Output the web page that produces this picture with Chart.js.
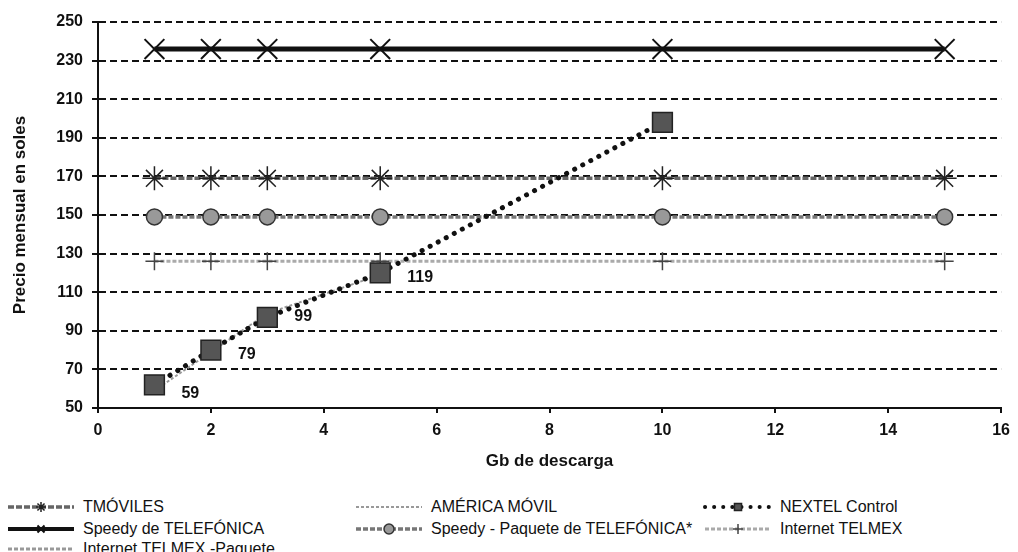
<!DOCTYPE html>
<html>
<head>
<meta charset="utf-8">
<script src="https://cdn.jsdelivr.net/npm/chart.js@4.4.0/dist/chart.umd.min.js"></script>
<style>
    body { margin: 0; background: #fff; }
    #wrap { position: relative; width: 1018px; height: 552px; overflow: hidden; background: #fff;
            font-family: "Liberation Sans", Arial, sans-serif; }
    #chart { position: absolute; left: 0; top: 0; }
    .leg { position: absolute; height: 20px; display: flex; align-items: center;
           font-size: 16px; color: #111; white-space: nowrap; }
    .leg canvas { margin-right: 6px; }
</style>
</head>
<body>
<div id="wrap">
    <canvas id="chart" width="1018" height="480"></canvas>
    <div id="legend"></div>
</div>
<script>
// Gb de descarga
const gbX = [1, 2, 3, 5, 10, 15];
const nextelX = [1, 2, 3, 5, 10];
const americaX = [1, 2, 3, 5];

// precio mensual en soles
const speedyTelefonica = [236, 236, 236, 236, 236, 236];
const internetTelmexPaquete = [236, 236, 236, 236, 236, 236];
const tmoviles = [169, 169, 169, 169, 169, 169];
const speedyPaquete = [149, 149, 149, 149, 149, 149];
const internetTelmex = [126, 126, 126, 126, 126, 126];
const nextelControl = [62, 80, 97, 120, 198];
const americaMovil = [59, 79, 99, 119];

const yTicks = { min: 50, max: 250, step: 20 };
const xTicks = { min: 0, max: 16, step: 2 };

function pts(xs, ys) {
    return xs.map(function (x, i) { return { x: x, y: ys[i] }; });
}

// etiquetas de valor (59, 79, 99, 119)
const valueLabels = {
    id: "valueLabels",
    afterDatasetsDraw(chart) {
        const ctx = chart.ctx;
        chart.data.datasets.forEach(function (ds, i) {
            if (!ds.showValues) return;
            const meta = chart.getDatasetMeta(i);
            ctx.save();
            ctx.font = "bold 16px 'Liberation Sans', Arial, sans-serif";
            ctx.fillStyle = "#111";
            ctx.textAlign = "left";
            ctx.textBaseline = "middle";
            meta.data.forEach(function (p, j) {
                ctx.fillText(String(ds.data[j].y), p.x + 27, p.y + 3);
            });
            ctx.restore();
        });
    }
};

const datasets = [
    {
        label: "NEXTEL Control",
        data: pts(nextelX, nextelControl),
        borderColor: "#111", borderWidth: 5, borderDash: [0.1, 9], borderCapStyle: "round",
        pointStyle: "rect", pointRadius: 14, pointBackgroundColor: "#555",
        pointBorderColor: "#222", pointBorderWidth: 1.5
    },
    {
        label: "AMÉRICA MÓVIL",
        data: pts(americaX, americaMovil),
        borderColor: "#999", borderWidth: 2, borderDash: [3, 2],
        pointRadius: 0, showValues: true
    },
    {
        label: "Speedy de TELEFÓNICA",
        data: pts(gbX, speedyTelefonica),
        borderColor: "#111", borderWidth: 5,
        pointStyle: "crossRot", pointRadius: 14, pointBorderColor: "#111", pointBorderWidth: 2
    },
    {
        label: "Internet TELMEX -Paquete",
        data: pts(gbX, internetTelmexPaquete),
        borderColor: "#999", borderWidth: 3, borderDash: [4, 2],
        pointRadius: 0
    },
    {
        label: "TMÓVILES",
        data: pts(gbX, tmoviles),
        borderColor: "#666", borderWidth: 3.5, borderDash: [6, 2],
        pointStyle: "star", pointRadius: 12, pointBorderColor: "#222", pointBorderWidth: 1.5
    },
    {
        label: "Speedy - Paquete de TELEFÓNICA*",
        data: pts(gbX, speedyPaquete),
        borderColor: "#777", borderWidth: 3.5, borderDash: [5, 2],
        pointStyle: "circle", pointRadius: 8, pointBackgroundColor: "#999",
        pointBorderColor: "#333", pointBorderWidth: 1.5
    },
    {
        label: "Internet TELMEX",
        data: pts(gbX, internetTelmex),
        borderColor: "#aaa", borderWidth: 3, borderDash: [4, 2],
        pointStyle: "cross", pointRadius: 9, pointBorderColor: "#444", pointBorderWidth: 1.5
    }
];

Chart.defaults.font.family = "'Liberation Sans', Arial, sans-serif";
Chart.defaults.color = "#111";

const chart = new Chart(document.getElementById("chart"), {
    type: "line",
    data: { datasets: datasets },
    options: {
        responsive: false,
        animation: false,
        devicePixelRatio: 1,
        layout: { padding: { top: 22, right: 13, left: 0, bottom: 0 } },
        plugins: { legend: { display: false }, tooltip: { enabled: false } },
        elements: { line: { tension: 0, fill: false } },
        scales: {
            x: {
                type: "linear",
                min: xTicks.min, max: xTicks.max,
                ticks: { stepSize: xTicks.step, padding: 8, font: { size: 16, weight: "bold" } },
                grid: { drawOnChartArea: false, drawTicks: true, tickLength: 5, color: "#111", lineWidth: 2 },
                border: { display: true, color: "#111", width: 2 },
                title: { display: true, text: "Gb de descarga", font: { size: 17, weight: "bold" },
                         padding: { top: 0, bottom: 8 } },
                afterFit: function (s) { s.height = 72; }
            },
            y: {
                min: yTicks.min, max: yTicks.max,
                ticks: { stepSize: yTicks.step, padding: 9, font: { size: 16, weight: "bold" } },
                grid: { color: "#111", lineWidth: 2, tickLength: 6 },
                border: { display: true, color: "#111", width: 2, dash: [7, 4] },
                title: { display: true, text: "Precio mensual en soles", font: { size: 17, weight: "bold" },
                         padding: { top: 10, bottom: 0 } },
                afterFit: function (s) { s.width = 98; }
            }
        }
    },
    plugins: [valueLabels]
});

// leyenda (3 columnas)
const legendItems = [
    { label: "TMÓVILES", col: 0, row: 0 },
    { label: "AMÉRICA MÓVIL", col: 1, row: 0 },
    { label: "NEXTEL Control", col: 2, row: 0 },
    { label: "Speedy de TELEFÓNICA", col: 0, row: 1 },
    { label: "Speedy - Paquete de TELEFÓNICA*", col: 1, row: 1 },
    { label: "Internet TELMEX", col: 2, row: 1 },
    { label: "Internet TELMEX -Paquete", col: 0, row: 2 }
];
const colX = [5, 353, 702];
const rowY = [497, 519, 539];

const legendBox = document.getElementById("legend");
legendItems.forEach(function (item) {
    const ds = datasets.find(function (d) { return d.label === item.label; });
    const div = document.createElement("div");
    div.className = "leg";
    div.style.left = colX[item.col] + "px";
    div.style.top = rowY[item.row] + "px";
    const c = document.createElement("canvas");
    c.width = 72; c.height = 16;
    const g = c.getContext("2d");
    g.strokeStyle = ds.borderColor;
    g.lineWidth = Math.min(ds.borderWidth, 4);
    g.lineCap = ds.borderCapStyle || "butt";
    g.setLineDash(ds.borderDash || []);
    g.beginPath(); g.moveTo(3, 8); g.lineTo(69, 8); g.stroke();
    g.setLineDash([]);
    if (ds.pointRadius && Chart.helpers && Chart.helpers.drawPoint) {
        g.fillStyle = ds.pointBackgroundColor || "#fff";
        g.strokeStyle = ds.pointBorderColor || "#111";
        g.lineWidth = ds.pointBorderWidth || 1;
        Chart.helpers.drawPoint(g, { pointStyle: ds.pointStyle, radius: 5, borderWidth: g.lineWidth, rotation: 0 }, 36, 8);
    }
    div.appendChild(c);
    div.appendChild(document.createTextNode(item.label));
    legendBox.appendChild(div);
});
</script>
</body>
</html>
